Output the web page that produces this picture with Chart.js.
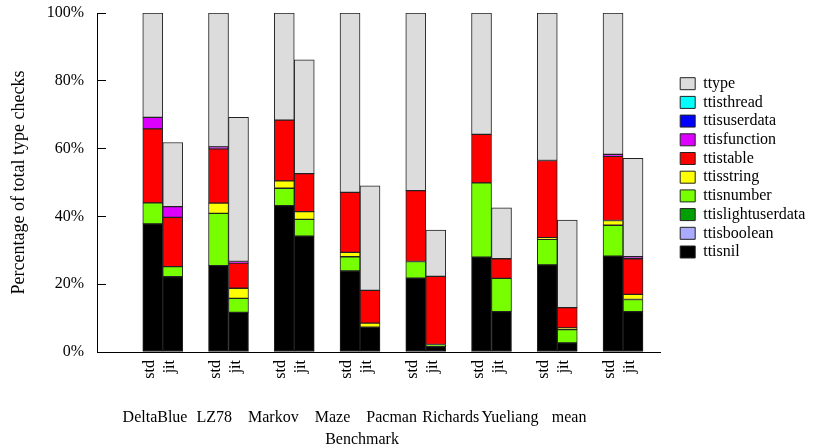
<!DOCTYPE html>
<html>
<head>
<meta charset="utf-8">
<title>Type checks</title>
<script src="https://cdn.jsdelivr.net/npm/chart.js@4/dist/chart.umd.min.js"></script>
<style>
  html, body { margin: 0; padding: 0; background: #fff; }
  #wrap { width: 813px; height: 445px; }
</style>
</head>
<body>
<div id="wrap"><canvas id="chart"></canvas></div>
<script>
(function () {
  "use strict";

  var benchmarks = ["DeltaBlue", "LZ78", "Markov", "Maze", "Pacman", "Richards", "Yueliang", "mean"];
  var variants = ["std", "jit"];

  // percentages per bar: std, jit for each benchmark in turn
  var ttisnil =           [37.8, 22.2, 25.5, 11.7, 43.2, 34.2, 23.9, 7.3, 21.8, 1.6, 28.0, 11.9, 25.7, 2.7, 28.3, 11.9];
  var ttisboolean =       [0, 0, 0, 0, 0, 0, 0, 0, 0, 0, 0, 0, 0, 0, 0, 0];
  var ttislightuserdata = [0, 0, 0, 0, 0, 0, 0, 0, 0, 0, 0, 0, 0, 0, 0, 0];
  var ttisnumber =        [6.2, 3.0, 15.4, 4.1, 5.1, 4.9, 4.2, 0, 4.9, 0.6, 21.9, 9.8, 7.5, 3.9, 9.1, 3.6];
  var ttisstring =        [0, 0, 3.0, 3.0, 2.2, 2.3, 1.3, 1.2, 0, 0, 0, 0, 0.5, 0.5, 1.4, 1.5];
  var ttistable =         [21.8, 14.5, 16.0, 7.4, 17.9, 11.2, 17.7, 9.7, 20.9, 20.1, 14.3, 5.8, 22.8, 6.0, 18.9, 10.5];
  var ttisfunction =      [3.4, 3.2, 0.6, 0.5, 0, 0, 0, 0, 0, 0, 0, 0, 0, 0, 0.6, 0.6];
  var ttisuserdata =      [0, 0, 0, 0, 0, 0, 0, 0, 0, 0, 0, 0, 0, 0, 0, 0];
  var ttisthread =        [0, 0, 0, 0, 0, 0, 0, 0, 0, 0, 0, 0, 0, 0, 0, 0];
  var ttype =             [30.8, 18.9, 39.5, 42.5, 31.6, 33.6, 52.9, 30.8, 52.4, 13.7, 35.8, 15.0, 43.5, 25.8, 41.7, 29.0];

  var yTicks = [0, 20, 40, 60, 80, 100];

  // bottom of the stack first
  var series = [
    { label: "ttisnil", values: ttisnil, color: "#000000" },
    { label: "ttisboolean", values: ttisboolean, color: "#aaaaff" },
    { label: "ttislightuserdata", values: ttislightuserdata, color: "#00a000" },
    { label: "ttisnumber", values: ttisnumber, color: "#77ff00" },
    { label: "ttisstring", values: ttisstring, color: "#ffff00" },
    { label: "ttistable", values: ttistable, color: "#ff0000" },
    { label: "ttisfunction", values: ttisfunction, color: "#dd00ff" },
    { label: "ttisuserdata", values: ttisuserdata, color: "#0000ff" },
    { label: "ttisthread", values: ttisthread, color: "#00ffff" },
    { label: "ttype", values: ttype, color: "#dcdcdc" }
  ];

  var half = 0.152;
  function barX(k) {
    return Math.floor(k / 2) + 1 + (k % 2 ? half : -half);
  }
  var barPositions = ttype.map(function (v, k) { return barX(k); });

  var serif = '"Liberation Serif", "Times New Roman", serif';
  Chart.defaults.font.family = serif;
  Chart.defaults.font.size = 16;
  Chart.defaults.color = "#000";

  // keep label overhang from pushing the plot area around
  function noPad(scale) {
    scale.paddingLeft = 0;
    scale.paddingRight = 0;
    scale.paddingTop = 0;
    scale.paddingBottom = 0;
  }

  var benchmarkTitle = {
    id: "benchmarkTitle",
    afterDraw: function (chart) {
      var x2 = chart.scales.x2;
      var ctx = chart.ctx;
      ctx.save();
      ctx.font = "16px " + serif;
      ctx.fillStyle = "#000";
      ctx.textAlign = "center";
      ctx.textBaseline = "top";
      ctx.fillText("Benchmark", x2.getPixelForValue((1 + benchmarks.length) / 2), x2.top + 50);
      ctx.restore();
    }
  };

  new Chart(document.getElementById("chart"), {
    type: "bar",
    data: {
      datasets: series.map(function (s) {
        return {
          label: s.label,
          data: s.values.map(function (v, k) { return { x: barX(k), y: v }; }),
          backgroundColor: s.color,
          borderColor: "#222",
          borderWidth: 1,
          borderSkipped: false,
          categoryPercentage: 1,
          barPercentage: 1
        };
      })
    },
    plugins: [benchmarkTitle],
    options: {
      responsive: true,
      maintainAspectRatio: false,
      animation: false,
      layout: { padding: { top: 13, left: 0, right: 0, bottom: 0 } },
      plugins: {
        tooltip: { enabled: false },
        legend: {
          position: "right",
          align: "start",
          reverse: true,
          title: { display: true, text: "", font: { size: 10 }, padding: { top: 48, bottom: 0 } },
          labels: {
            boxWidth: 15,
            boxHeight: 12,
            padding: 2.7,
            color: "#000",
            font: { size: 16 }
          }
        }
      },
      scales: {
        x: {
          type: "linear",
          offset: false,
          stacked: true,
          min: 0,
          max: 8.57,
          afterBuildTicks: function (scale) {
            scale.ticks = barPositions.map(function (v) { return { value: v }; });
          },
          afterFit: function (scale) { scale.height = 30; noPad(scale); },
          grid: { display: false, drawTicks: false },
          border: { display: true, color: "#000", width: 1 },
          ticks: {
            autoSkip: false,
            minRotation: 90,
            maxRotation: 90,
            padding: 8,
            labelOffset: -3,
            callback: function (value, index) { return variants[index % 2]; }
          }
        },
        x2: {
          type: "linear",
          offset: false,
          position: "bottom",
          weight: 1,
          min: 0.019,
          max: 9.545,
          afterBuildTicks: function (scale) {
            scale.ticks = benchmarks.map(function (b, i) { return { value: i + 1 }; });
          },
          afterFit: function (scale) { scale.height = 63; noPad(scale); },
          grid: { display: false, drawTicks: false },
          border: { display: false },
          ticks: {
            autoSkip: false,
            maxRotation: 0,
            padding: 26,
            callback: function (value, index) { return benchmarks[index]; }
          }
        },
        y: {
          stacked: true,
          min: 0,
          max: 100,
          afterBuildTicks: function (scale) {
            scale.ticks = yTicks.map(function (v) { return { value: v }; });
          },
          afterFit: function (scale) { scale.width = 97; noPad(scale); },
          grid: { drawOnChartArea: false, drawTicks: true, tickLength: -9, color: "#000", lineWidth: 1 },
          border: { display: true, color: "#000", width: 1 },
          ticks: {
            padding: 22,
            callback: function (v) { return v + "%"; }
          },
          title: {
            display: true,
            text: "Percentage of total type checks",
            font: { size: 18 },
            padding: { top: 8, bottom: 0 }
          }
        },
        spacer: {
          type: "linear",
          position: "right",
          afterFit: function (scale) { scale.width = 17; noPad(scale); },
          grid: { display: false, drawTicks: false },
          border: { display: false },
          ticks: { display: false }
        }
      }
    }
  });
})();
</script>
</body>
</html>
